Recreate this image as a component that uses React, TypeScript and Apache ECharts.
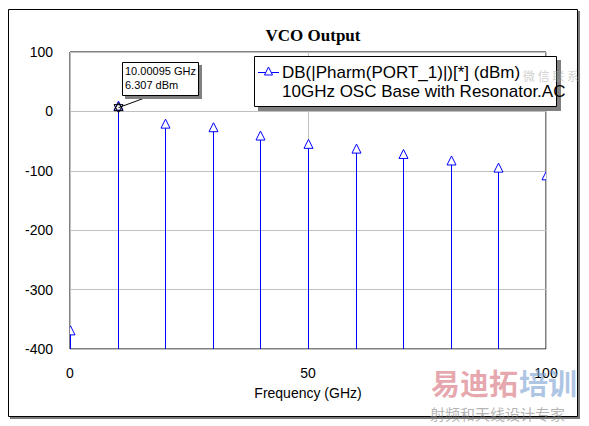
import React, { useEffect, useRef } from "react";
import * as echarts from "echarts";

const freqGHz = [0, 10, 20, 30, 40, 50, 60, 70, 80, 90, 100];
const powerDbm = [-372, 6.307, -24, -30, -44, -58, -66, -75, -86, -98, -111];
const yMin = -400;
const yMax = 100;
const yStep = 100;
const xMin = 0;
const xMax = 100;
const xStep = 50;
const titleText = "VCO Output";
const xAxisName = "Frequency (GHz)";
const legendLine1 = "DB(|Pharm(PORT_1)|)[*] (dBm)";
const legendLine2 = "10GHz OSC Base with Resonator.AC";
const markerIndex = 1;
const markerLabel1 = "10.00095 GHz";
const markerLabel2 = "6.307 dBm";

const SANS = 'Arial, "Liberation Sans", sans-serif';
const SERIF = '"Times New Roman", "Liberation Serif", serif';
const CJK = '"Noto Sans CJK SC", sans-serif';
const BLUE = "#0000ff";

export default function App() {
  const ref = useRef<HTMLDivElement>(null);
  useEffect(() => {
    if (!ref.current) return;
    const chart = echarts.init(ref.current, undefined, { renderer: "svg" });
    const data = freqGHz.map((f, i) => [f, powerDbm[i]]);
    const baseOption: any = {
      animation: false,
      backgroundColor: "#fff",
      title: {
        text: titleText,
        left: 308,
        top: 22,
        textAlign: "center",
        textStyle: { fontFamily: SERIF, fontWeight: "bold", fontSize: 17, color: "#000" },
      },
      grid: {
        left: 70,
        top: 52,
        right: 43,
        bottom: 77,
        show: true,
        borderColor: "#000",
        borderWidth: 1,
        backgroundColor: "transparent",
      },
      xAxis: {
        type: "value",
        min: xMin,
        max: xMax,
        interval: xStep,
        name: xAxisName,
        nameLocation: "middle",
        nameGap: 37,
        nameTextStyle: { fontFamily: SANS, fontSize: 14, color: "#000" },
        axisLine: { show: false },
        axisTick: { show: false },
        axisLabel: { fontFamily: SANS, fontSize: 14, color: "#000", margin: 17 },
        splitLine: { show: true, lineStyle: { color: "#c0c0c0", width: 1 } },
      },
      yAxis: {
        type: "value",
        min: yMin,
        max: yMax,
        interval: yStep,
        axisLine: { show: false },
        axisTick: { show: false },
        axisLabel: { fontFamily: SANS, fontSize: 14, color: "#000", margin: 17 },
        splitLine: { show: true, lineStyle: { color: "#c0c0c0", width: 1 } },
      },
      series: [
        {
          type: "custom",
          name: legendLine1,
          clip: true,
          z: 5,
          data,
          encode: { x: 0, y: 1 },
          renderItem: (params: any, api: any) => {
            const x = api.value(0);
            const y = api.value(1);
            const top = api.coord([x, y]);
            const base = api.coord([x, yMin]);
            const px = Math.round(top[0]) + 0.5;
            const py = top[1];
            return {
              type: "group",
              children: [
                {
                  type: "line",
                  shape: { x1: px, y1: base[1], x2: px, y2: py },
                  style: { stroke: BLUE, lineWidth: 1 },
                },
                {
                  type: "polygon",
                  shape: {
                    points: [
                      [px, py - 6.5],
                      [px - 4.5, py + 2.5],
                      [px + 4.5, py + 2.5],
                    ],
                  },
                  style: { fill: "#fff", stroke: BLUE, lineWidth: 1 },
                },
              ],
            };
          },
        },
      ],
    };
    chart.setOption(baseOption);

    const p = chart.convertToPixel({ xAxisIndex: 0, yAxisIndex: 0 }, [
      freqGHz[markerIndex],
      powerDbm[markerIndex],
    ]) as number[];
    const mx = Math.round(p[0]) + 0.5;
    const my = p[1];

    const graphic: any[] = [
      // outer frame shadow + frame
      { type: "rect", z: -20, shape: { x: 10, y: 11, width: 570, height: 408 }, style: { fill: "#7a7a7a" } },
      { type: "rect", z: -19, shape: { x: 8.5, y: 9.5, width: 569, height: 407 }, style: { fill: "#fff", stroke: "#000", lineWidth: 1 } },
      // legend box
      { type: "rect", z: 50, shape: { x: 258, y: 60, width: 303, height: 51 }, style: { fill: "#808080" } },
      { type: "rect", z: 51, shape: { x: 254.5, y: 56.5, width: 302, height: 50 }, style: { fill: "#fff", stroke: "#000", lineWidth: 1 } },
      { type: "line", z: 52, shape: { x1: 258, y1: 72.5, x2: 279, y2: 72.5 }, style: { stroke: BLUE, lineWidth: 1 } },
      {
        type: "polygon",
        z: 53,
        shape: { points: [[268.5, 67], [264.5, 75], [272.5, 75]] },
        style: { fill: "#fff", stroke: BLUE, lineWidth: 1 },
      },
      {
        type: "text",
        z: 53,
        x: 282,
        y: 72,
        style: { text: legendLine1, fontFamily: SANS, fontSize: 17, fill: "#000", textVerticalAlign: "middle", textAlign: "left" },
      },
      {
        type: "text",
        z: 53,
        x: 282,
        y: 91,
        style: { text: legendLine2, fontFamily: SANS, fontSize: 17, fill: "#000", textVerticalAlign: "middle", textAlign: "left" },
      },
      // marker annotation
      { type: "line", z: 40, shape: { x1: mx, y1: my, x2: 150, y2: 96 }, style: { stroke: "#000", lineWidth: 1 } },
      {
        type: "polygon",
        z: 41,
        shape: { points: [[mx, my - 5], [mx - 4.5, my + 3], [mx + 4.5, my + 3]] },
        style: { fill: "none", stroke: "#000", lineWidth: 1 },
      },
      {
        type: "polygon",
        z: 41,
        shape: { points: [[mx, my + 5], [mx - 4.5, my - 3], [mx + 4.5, my - 3]] },
        style: { fill: "none", stroke: "#000", lineWidth: 1 },
      },
      { type: "rect", z: 42, shape: { x: 125, y: 65, width: 77, height: 34 }, style: { fill: "#808080" } },
      { type: "rect", z: 43, shape: { x: 122.5, y: 62.5, width: 76, height: 33 }, style: { fill: "#fff", stroke: "#000", lineWidth: 1 } },
      {
        type: "text",
        z: 44,
        x: 125,
        y: 71,
        style: { text: markerLabel1, fontFamily: SANS, fontSize: 11, fill: "#000", textVerticalAlign: "middle" },
      },
      {
        type: "text",
        z: 44,
        x: 125,
        y: 85,
        style: { text: markerLabel2, fontFamily: SANS, fontSize: 11, fill: "#000", textVerticalAlign: "middle" },
      },
      // watermark
      {
        type: "text",
        z: 90,
        x: 431,
        y: 382,
        style: {
          text: "易迪拓",
          fontFamily: CJK,
          fontWeight: "bold",
          fontSize: 29,
          fill: "rgba(214,110,120,0.6)",
          textVerticalAlign: "middle",
        },
      },
      {
        type: "text",
        z: 90,
        x: 519,
        y: 382,
        style: {
          text: "培训",
          fontFamily: CJK,
          fontWeight: "bold",
          fontSize: 29,
          fill: "rgba(120,160,210,0.6)",
          textVerticalAlign: "middle",
        },
      },
      {
        type: "text",
        z: 90,
        x: 430,
        y: 413,
        style: {
          text: "射频和天线设计专家",
          fontFamily: CJK,
          fontSize: 15,
          fill: "rgba(130,130,130,0.6)",
          textVerticalAlign: "middle",
        },
      },
      {
        type: "text",
        z: 90,
        x: 523,
        y: 75,
        style: {
          text: "微 信 联 系",
          fontFamily: CJK,
          fontSize: 12,
          fill: "rgba(160,160,160,0.5)",
          textVerticalAlign: "middle",
        },
      },
    ];
    chart.setOption({ graphic: { elements: graphic } });

    return () => {
      chart.dispose();
    };
  }, []);
  return (
    <div
      ref={ref}
      style={{ position: "absolute", left: 0, top: 0, width: 589, height: 426 }}
    />
  );
}
